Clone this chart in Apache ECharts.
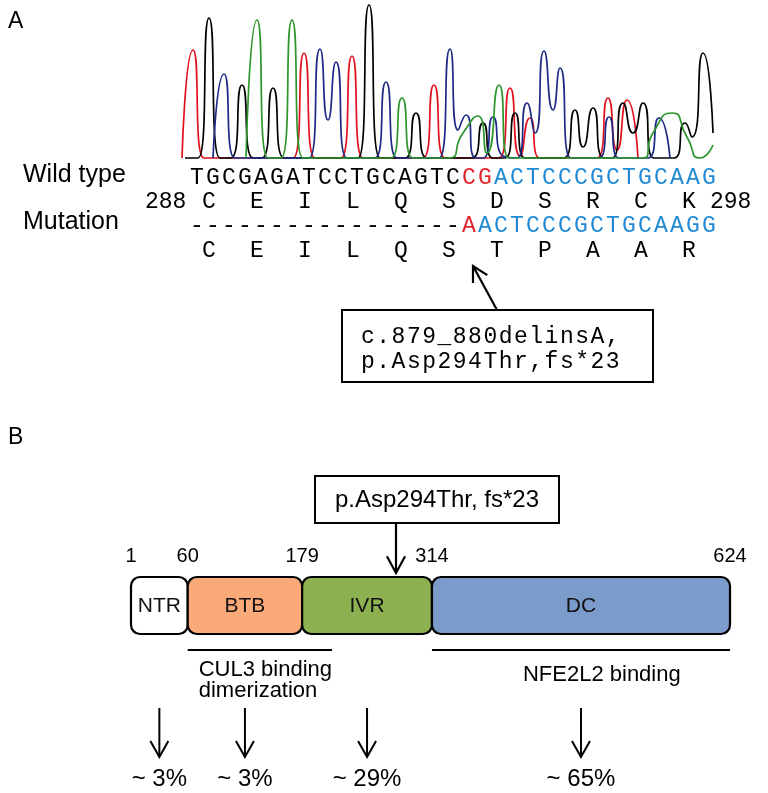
<!DOCTYPE html>
<html>
<head>
<meta charset="utf-8">
<script src="https://cdn.jsdelivr.net/npm/echarts@6/dist/echarts.min.js"></script>
<style>
  html, body { margin: 0; padding: 0; background: #fff; }
  #chart { width: 768px; height: 793px; }
</style>
</head>
<body>
<div id="chart"></div>
<script>
// chromatogram traces, [trace position, signal]
const traceRed = [[182,0],[193,108],[204,0],[293,0],[304,105],[315,0],[341,0],[352,102],[363,0],
  [423,0],[434,73],[445,0],[499,0],[510,70],[520,2],[530,40],[540,0],
  [597,0],[608,60],[617,8],[627,58],[638,0]];
const traceBlack = [[185,0],[198,0],[209,140],[220,0],[231,0],[242,73],[253,0],[262,0],[273,70],[284,0],
  [358,0],[369,153],[380,0],[405,0],[416,45],[427,0],[472,0],[483,35],[493,0],[505,0],[515,45],[525,0],
  [564,0],[575,48],[583,11],[593,50],[604,0],[612,0],[623,55],[633,25],[643,55],[654,0],
  [674,0],[685,35],[692,21],[703,105],[713,25]];
const traceBlue = [[213,0],[224,84],[235,0],[309,0],[320,109],[328,38],[336,96],[347,0],
  [375,0],[386,76],[397,0],[439,0],[450,109],[458,28],[466,43],[476,0],[483,0],[493,41],[503,2],
  [517,0],[527,55],[535,25],[544,107],[553,48],[560,90],[571,0],[599,0],[609,41],[619,0],
  [648,0],[659,40],[670,0]];
const traceGreen = [[246,0],[257,138],[268,0],[281,0],[292,138],[303,0],[391,0],[402,60],[413,0],
  [447,0],[463,25],[478,42],[487,5],[499,73],[509,0],[643,0],[653,25],[672,45],[687,21],[700,0],[713,13]];

// sequences (unchanged / changed / downstream)
const wildSeq = ['TGCGAGATCCTGCAGTC', 'CG', 'ACTCCCGCTGCAAG'];
const mutSeq = ['-----------------', 'A', 'ACTCCCGCTGCAAGG'];
const wildAA = ['C','E','I','L','Q','S','D','S','R','C','K'];
const mutAA = ['C','E','I','L','Q','S','T','P','A','A','R'];
const aaRange = [288, 298];
const mutationText = ['c.879_880delinsA,', 'p.Asp294Thr,fs*23'];
const proteinText = 'p.Asp294Thr, fs*23';

// KEAP1 domains
const domainNames = ['NTR', 'BTB', 'IVR', 'DC'];
const domainBounds = [1, 60, 179, 314, 624];
const mutationShare = [3, 3, 29, 65];
const bindingNames = ['CUL3 binding\ndimerization', 'NFE2L2 binding'];
const bindingStart = [60, 314];
const bindingEnd = [210, 624];

const domainColors = ['#ffffff', '#f9aa78', '#8db150', '#7b9bca'];
const RED = '#e2222a', BLUE = '#2089d4';
const SANS = '"Liberation Sans", Arial, sans-serif';
const MONO = '"Liberation Mono", "Courier New", monospace';

const chart = echarts.init(document.getElementById('chart'));

function trace(data, color) {
  return {
    type: 'line', xAxisIndex: 0, yAxisIndex: 0, data: data,
    smooth: 0.7, showSymbol: false, silent: true,
    lineStyle: { color: color, width: 1.7 }
  };
}

// monospace text laid out in fixed cells
function cells(str, key) {
  return str.split('').map(c => '{' + key + '|' + c + '}').join('');
}
function monoText(x, y, parts, keys, cell, size) {
  const rich = {};
  const fills = { k: '#000', r: RED, b: BLUE };
  ['k', 'r', 'b'].forEach(k => {
    rich[k] = { fill: fills[k], font: size + 'px ' + MONO, width: cell, lineHeight: 26 };
  });
  return {
    type: 'text', x: x, y: y,
    style: { text: parts.map((p, j) => cells(p, keys[j])).join(''), rich: rich, verticalAlign: 'middle' }
  };
}

function arrow(x1, y1, x2, y2, head) {
  const a = Math.atan2(y2 - y1, x2 - x1);
  const h1 = [x2 - head * Math.cos(a - 0.5), y2 - head * Math.sin(a - 0.5)];
  const h2 = [x2 - head * Math.cos(a + 0.5), y2 - head * Math.sin(a + 0.5)];
  return [
    { type: 'line', shape: { x1: x1, y1: y1, x2: x2, y2: y2 }, style: { stroke: '#000', lineWidth: 2.2 } },
    { type: 'polyline', shape: { points: [h1, [x2, y2], h2] }, style: { stroke: '#000', lineWidth: 2.2, fill: null } }
  ];
}

const domainData = domainNames.map((n, i) => [domainBounds[i], domainBounds[i + 1], i]);
const bindingData = bindingNames.map((n, i) => [bindingStart[i], bindingEnd[i], i]);
const bindingTextX = [11, 91];
const bindingTextY = [36, 41];

const option = {
  animation: false,
  grid: [
    { left: 0, top: 0, width: 768, height: 160 },
    { left: 131, top: 577, width: 599, height: 57 }
  ],
  xAxis: [
    { gridIndex: 0, type: 'value', min: 0, max: 768, show: false },
    { gridIndex: 1, type: 'value', min: 1, max: 624, show: false }
  ],
  yAxis: [
    { gridIndex: 0, type: 'value', min: -2, max: 158, show: false },
    { gridIndex: 1, type: 'value', min: 0, max: 1, show: false }
  ],
  series: [
    trace(traceRed, '#e0101c'),
    trace(traceBlack, '#000000'),
    trace(traceBlue, '#1c2a86'),
    trace(traceGreen, '#2c952c'),
    {
      type: 'custom', xAxisIndex: 1, yAxisIndex: 1, data: domainData,
      renderItem: function (params, api) {
        const s = api.coord([api.value(0), 1]);
        const e = api.coord([api.value(1), 0]);
        const i = api.value(2);
        const cx = (s[0] + e[0]) / 2;
        return { type: 'group', children: [
          { type: 'rect', shape: { x: s[0], y: s[1], width: e[0] - s[0], height: e[1] - s[1], r: 9 },
            style: { fill: domainColors[i], stroke: '#000', lineWidth: 2.2 } },
          { type: 'text', style: { text: domainNames[i], x: cx, y: (s[1] + e[1]) / 2 + 1,
            align: 'center', verticalAlign: 'middle', font: '21px ' + SANS, fill: '#111' } },
          // arrow + share below each domain
          { type: 'line', shape: { x1: cx, y1: e[1] + 74, x2: cx, y2: e[1] + 123 },
            style: { stroke: '#000', lineWidth: 2 } },
          { type: 'polyline', shape: { points: [[cx - 9, e[1] + 107], [cx, e[1] + 123], [cx + 9, e[1] + 107]] },
            style: { stroke: '#000', lineWidth: 2, fill: null } },
          { type: 'text', style: { text: '~ ' + mutationShare[i] + '%', x: cx, y: e[1] + 145,
            align: 'center', verticalAlign: 'middle', font: '24px ' + SANS, fill: '#000' } }
        ] };
      }
    },
    {
      type: 'custom', xAxisIndex: 1, yAxisIndex: 1, data: domainBounds.map(v => [v, 1]),
      renderItem: function (params, api) {
        const p = api.coord([api.value(0), 1]);
        return { type: 'text', style: { text: String(api.value(0)), x: p[0], y: p[1] - 21,
          align: 'center', verticalAlign: 'middle', font: '20px ' + SANS, fill: '#000' } };
      }
    },
    {
      type: 'custom', xAxisIndex: 1, yAxisIndex: 1, data: bindingData,
      renderItem: function (params, api) {
        const s = api.coord([api.value(0), 0]);
        const e = api.coord([api.value(1), 0]);
        const i = api.value(2);
        return { type: 'group', children: [
          { type: 'line', shape: { x1: s[0], y1: s[1] + 16, x2: e[0], y2: s[1] + 16 }, style: { stroke: '#000', lineWidth: 2.2 } },
          { type: 'text', style: { text: bindingNames[i], x: s[0] + bindingTextX[i], y: s[1] + bindingTextY[i] - 11,
            align: 'left', verticalAlign: 'top', font: '22px ' + SANS, lineHeight: 21, fill: '#000' } }
        ] };
      }
    }
  ],
  graphic: [
    { type: 'text', left: 8, top: 10, style: { text: 'A', font: '23px ' + SANS, fill: '#000' } },
    { type: 'text', left: 8, top: 426, style: { text: 'B', font: '23px ' + SANS, fill: '#000' } },
    { type: 'text', left: 23, top: 163, style: { text: 'Wild type', font: '25px ' + SANS, fill: '#000' } },
    { type: 'text', left: 23, top: 210, style: { text: 'Mutation', font: '25px ' + SANS, fill: '#000' } },
    monoText(190, 178, wildSeq, ['k', 'r', 'b'], 16, 23),
    { type: 'text', x: 145, y: 202, style: { text: String(aaRange[0]), font: '23px ' + MONO, fill: '#000', verticalAlign: 'middle' } },
    monoText(202, 202, [wildAA.join('')], ['k'], 48, 23),
    { type: 'text', x: 710, y: 202, style: { text: String(aaRange[1]), font: '23px ' + MONO, fill: '#000', verticalAlign: 'middle' } },
    monoText(190, 226, mutSeq, ['k', 'r', 'b'], 16, 23),
    monoText(202, 251, [mutAA.join('')], ['k'], 48, 23),
    { type: 'group', children: arrow(497, 310, 473, 266, 17) },
    { type: 'rect', shape: { x: 342, y: 310, width: 311, height: 72 }, style: { fill: '#fff', stroke: '#000', lineWidth: 2 } },
    monoText(361, 337, [mutationText[0]], ['k'], 15.3, 23),
    monoText(361, 362, [mutationText[1]], ['k'], 15.3, 23),
    { type: 'rect', shape: { x: 315, y: 476, width: 244, height: 47 }, style: { fill: '#fff', stroke: '#000', lineWidth: 2 } },
    { type: 'text', x: 437, y: 500, style: { text: proteinText, font: '24px ' + SANS, fill: '#000', align: 'center', verticalAlign: 'middle' } },
    { type: 'group', children: arrow(396, 523, 396, 573, 19) }
  ]
};
chart.setOption(option);
</script>
</body>
</html>
